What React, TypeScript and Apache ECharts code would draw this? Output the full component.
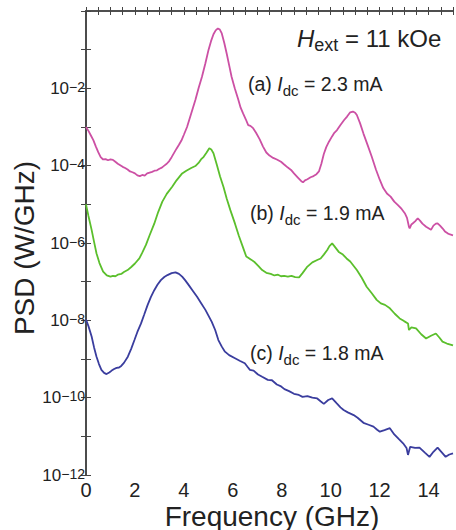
import React, { useEffect, useRef } from "react";
import * as echarts from "echarts";

// Frequency (GHz) and exponent of PSD (W/GHz), i.e. log10(PSD)
const freqA = [0.0, 0.1, 0.2, 0.3, 0.4, 0.5, 0.6, 0.7, 0.8, 0.9, 1.0, 1.1, 1.2, 1.3, 1.4, 1.5, 1.6, 1.7, 1.8, 1.9, 2.0, 2.1, 2.2, 2.3, 2.4, 2.5, 2.6, 2.7, 2.8, 2.9, 3.0, 3.1, 3.2, 3.3, 3.4, 3.5, 3.6, 3.7, 3.8, 3.9, 4.0, 4.13, 4.3, 4.47, 4.6, 4.74, 4.88, 5.01, 5.11, 5.21, 5.3, 5.39, 5.47, 5.55, 5.65, 5.75, 5.85, 5.95, 6.08, 6.22, 6.32, 6.42, 6.53, 6.63, 6.72, 6.83, 6.95, 7.1, 7.23, 7.37, 7.5, 7.65, 7.8, 7.97, 8.1, 8.25, 8.38, 8.5, 8.65, 8.8, 8.87, 8.95, 9.05, 9.18, 9.3, 9.42, 9.52, 9.62, 9.72, 9.82, 9.93, 10.05, 10.15, 10.26, 10.4, 10.55, 10.67, 10.8, 10.91, 11.0, 11.07, 11.2, 11.34, 11.5, 11.68, 11.85, 12.01, 12.15, 12.3, 12.45, 12.6, 12.75, 12.9, 13.03, 13.12, 13.2, 13.23, 13.3, 13.36, 13.45, 13.56, 13.65, 13.75, 13.9, 14.0, 14.1, 14.2, 14.3, 14.37, 14.47, 14.57, 14.67, 14.78, 14.88, 15.0];
const expA = [-3.0, -3.1, -3.22, -3.34, -3.5, -3.65, -3.78, -3.84, -3.83, -3.86, -3.84, -3.85, -3.9, -3.95, -3.99, -4.03, -4.06, -4.1, -4.15, -4.17, -4.2, -4.25, -4.27, -4.24, -4.26, -4.2, -4.18, -4.16, -4.13, -4.12, -4.08, -4.05, -4.0, -3.95, -3.88, -3.78, -3.67, -3.56, -3.46, -3.35, -3.2, -3.0, -2.65, -2.3, -2.0, -1.7, -1.35, -1.0, -0.78, -0.6, -0.5, -0.45, -0.48, -0.58, -0.82, -1.1, -1.4, -1.7, -2.0, -2.28, -2.5, -2.65, -2.8, -2.95, -2.97, -3.03, -3.15, -3.32, -3.5, -3.66, -3.74, -3.8, -3.84, -3.9, -3.97, -4.05, -4.11, -4.2, -4.3, -4.4, -4.43, -4.38, -4.35, -4.3, -4.27, -4.22, -4.15, -3.95, -3.7, -3.52, -3.38, -3.25, -3.15, -3.08, -2.95, -2.82, -2.73, -2.62, -2.6, -2.63, -2.69, -2.9, -3.17, -3.45, -3.77, -4.1, -4.37, -4.58, -4.72, -4.8, -4.93, -5.02, -5.12, -5.23, -5.35, -5.58, -5.62, -5.52, -5.49, -5.44, -5.36, -5.42, -5.5, -5.58, -5.62, -5.66, -5.55, -5.5, -5.49, -5.55, -5.62, -5.7, -5.75, -5.78, -5.8];

const freqB = [0.0, 0.1, 0.23, 0.33, 0.43, 0.55, 0.7, 0.85, 1.0, 1.1, 1.2, 1.3, 1.44, 1.55, 1.7, 1.85, 2.0, 2.18, 2.3, 2.45, 2.6, 2.79, 2.95, 3.12, 3.3, 3.53, 3.7, 3.93, 4.1, 4.3, 4.47, 4.6, 4.7, 4.81, 4.93, 5.04, 5.12, 5.21, 5.35, 5.48, 5.62, 5.75, 5.9, 6.09, 6.25, 6.42, 6.55, 6.63, 6.75, 6.9, 7.05, 7.2, 7.37, 7.55, 7.7, 7.85, 7.97, 8.1, 8.25, 8.4, 8.55, 8.71, 8.85, 9.05, 9.25, 9.45, 9.59, 9.72, 9.86, 9.95, 10.06, 10.15, 10.33, 10.5, 10.65, 10.8, 10.95, 11.07, 11.27, 11.47, 11.68, 11.88, 12.05, 12.22, 12.42, 12.62, 12.82, 13.0, 13.16, 13.2, 13.3, 13.49, 13.7, 13.9, 14.1, 14.3, 14.45, 14.57, 14.75, 15.0];
const expB = [-5.0, -5.3, -5.66, -5.97, -6.27, -6.52, -6.74, -6.84, -6.87, -6.85, -6.86, -6.82, -6.8, -6.75, -6.7, -6.62, -6.53, -6.4, -6.25, -6.05, -5.8, -5.5, -5.2, -4.93, -4.73, -4.54, -4.38, -4.2, -4.13, -4.06, -4.01, -3.93, -3.84, -3.77, -3.66, -3.55, -3.58, -3.68, -3.98, -4.28, -4.55, -4.85, -5.15, -5.5, -5.82, -6.12, -6.35, -6.38, -6.43, -6.5, -6.6, -6.7, -6.77, -6.8, -6.84, -6.82, -6.86, -6.85, -6.87, -6.85, -6.88, -6.89, -6.78, -6.61, -6.5, -6.44, -6.4, -6.3, -6.18, -6.08, -6.01, -6.08, -6.23, -6.3, -6.4, -6.48, -6.6, -6.7, -6.9, -7.13, -7.3, -7.47, -7.56, -7.6, -7.69, -7.83, -7.95, -8.02, -8.08, -8.25, -8.18, -8.21, -8.36, -8.47, -8.4, -8.34, -8.45, -8.55, -8.6, -8.65];

const freqC = [0.0, 0.1, 0.23, 0.33, 0.43, 0.53, 0.63, 0.74, 0.84, 0.95, 1.05, 1.15, 1.25, 1.35, 1.44, 1.55, 1.71, 1.85, 1.98, 2.1, 2.25, 2.38, 2.52, 2.65, 2.79, 2.92, 3.06, 3.2, 3.33, 3.5, 3.66, 3.8, 3.93, 4.05, 4.2, 4.37, 4.54, 4.7, 4.88, 5.0, 5.14, 5.28, 5.41, 5.55, 5.68, 5.85, 6.09, 6.3, 6.49, 6.6, 6.7, 6.85, 7.03, 7.2, 7.43, 7.6, 7.8, 7.95, 8.11, 8.3, 8.5, 8.7, 8.85, 9.05, 9.25, 9.45, 9.6, 9.72, 9.9, 10.06, 10.25, 10.4, 10.53, 10.7, 10.94, 11.1, 11.34, 11.55, 11.75, 11.9, 12.01, 12.2, 12.42, 12.6, 12.8, 12.96, 13.1, 13.16, 13.25, 13.45, 13.63, 13.85, 14.04, 14.2, 14.37, 14.55, 14.7, 14.85, 15.0];
const expC = [-7.98, -8.15, -8.42, -8.7, -8.94, -9.13, -9.28, -9.36, -9.39, -9.35, -9.3, -9.26, -9.23, -9.22, -9.18, -9.1, -8.94, -8.73, -8.51, -8.3, -8.08, -7.85, -7.6, -7.4, -7.22, -7.08, -6.96, -6.88, -6.83, -6.78, -6.76, -6.8, -6.87, -6.96, -7.09, -7.24, -7.39, -7.55, -7.73, -7.87, -8.04, -8.25, -8.51, -8.68, -8.81, -8.9, -8.98, -9.05, -9.11, -9.2, -9.28, -9.3, -9.4, -9.46, -9.54, -9.55, -9.66, -9.7, -9.78, -9.83, -9.9, -9.93, -9.98, -9.96, -10.0, -10.02, -10.1, -10.16, -10.06, -10.02, -10.15, -10.25, -10.32, -10.38, -10.45, -10.52, -10.65, -10.7, -10.75, -10.83, -10.88, -10.84, -10.79, -10.95, -11.08, -11.18, -11.3, -11.48, -11.27, -11.3, -11.29, -11.42, -11.53, -11.4, -11.29, -11.42, -11.53, -11.47, -11.44];

const xTickLabels = [0, 2, 4, 6, 8, 10, 12, 14];
const yLabelExps = [-2, -4, -6, -8, -10, -12];

const colA = "#cc50a4";
const colB = "#5bbf2c";
const colC = "#3a3d9e";
const FONT = "Liberation Sans, Arial, sans-serif";
const AXIS = "#444";

function toData(f: number[], e: number[]) {
  return f.map((x, i) => [x, e[i]]);
}

export default function App() {
  const ref = useRef<HTMLDivElement>(null);
  useEffect(() => {
    if (!ref.current) return;
    const chart = echarts.init(ref.current, null, { renderer: "svg" });
    const grid = { left: 86, top: 11, width: 371, height: 464 };
    const lineStyle = (c: string) => ({ color: c, width: 1.8 });
    const annText = (x: number, y: number, letter: string, cur: string) => ({
      type: "text",
      x,
      y,
      style: {
        text: `{m|(${letter}) }{i|I}{s|dc}{m| = ${cur} mA}`,
        fill: "#222",
        font: `19.5px ${FONT}`,
        rich: {
          m: { fontSize: 19.5, fontFamily: FONT, lineHeight: 24, verticalAlign: "top", fill: "#222" },
          i: { fontSize: 19.5, fontFamily: FONT, fontStyle: "italic", lineHeight: 24, verticalAlign: "top", fill: "#222" },
          s: { fontSize: 15, fontFamily: FONT, lineHeight: 15, verticalAlign: "bottom", fill: "#222" },
        },
      },
    });
    const xCommon = {
      type: "value",
      min: 0,
      max: 15,
      interval: 0.5,
      axisLine: { lineStyle: { color: AXIS, width: 1.5 } },
      axisTick: { inside: true, length: 4, lineStyle: { color: AXIS, width: 1 } },
      splitLine: { show: false },
    };
    const yCommon = {
      type: "value",
      min: -12,
      max: 0,
      interval: 1,
      axisTick: { show: true, inside: true, length: 5, lineStyle: { color: AXIS, width: 1 } },
      splitLine: { show: false },
    };
    chart.setOption({
      animation: false,
      grid,
      xAxis: [
        {
          ...xCommon,
          axisLabel: {
            margin: 5,
            fontSize: 20,
            fontFamily: FONT,
            color: "#222",
            formatter: (v: number) => (xTickLabels.indexOf(v) >= 0 ? String(v) : ""),
          },
        },
        { ...xCommon, position: "top", axisLabel: { show: false } },
      ],
      yAxis: [
        {
          ...yCommon,
          axisLine: { lineStyle: { color: "#666", width: 2 } },
          axisLabel: {
            margin: 1,
            fontFamily: FONT,
            fontSize: 17,
            color: "#222",
            formatter: (v: number) =>
              yLabelExps.indexOf(v) >= 0 ? `{b|10}{s|\u2212${Math.abs(v)}}` : "",
            rich: {
              b: { fontSize: 17, fontFamily: FONT, lineHeight: 17, verticalAlign: "bottom", color: "#222" },
              s: { fontSize: 14, fontFamily: FONT, lineHeight: 14, verticalAlign: "top", padding: [0, 0, 10, 0], color: "#222" },
            },
          },
        },
        {
          ...yCommon,
          position: "right",
          axisLine: { show: true, lineStyle: { color: AXIS, width: 1.5 } },
          axisLabel: { show: false },
        },
      ],
      series: [
        { type: "line", data: toData(freqA, expA), showSymbol: false, lineStyle: lineStyle(colA), itemStyle: { color: colA } },
        { type: "line", data: toData(freqB, expB), showSymbol: false, lineStyle: lineStyle(colB), itemStyle: { color: colB } },
        { type: "line", data: toData(freqC, expC), showSymbol: false, lineStyle: lineStyle(colC), itemStyle: { color: colC } },
      ],
      graphic: [
        {
          type: "text",
          x: 24,
          y: 248,
          rotation: Math.PI / 2,
          style: {
            text: "PSD (W/GHz)",
            font: `28px ${FONT}`,
            fill: "#222",
            align: "center",
            verticalAlign: "middle",
          },
        },
        {
          type: "text",
          x: 272,
          y: 516,
          style: {
            text: "Frequency (GHz)",
            font: `28px ${FONT}`,
            fill: "#222",
            align: "center",
            verticalAlign: "middle",
          },
        },
        {
          type: "text",
          x: 297,
          y: 26,
          style: {
            text: "{i|H}{s|ext}{m| = 11 kOe}",
            font: `24px ${FONT}`,
            fill: "#222",
            rich: {
              i: { fontSize: 24, fontFamily: FONT, fontStyle: "italic", lineHeight: 28, verticalAlign: "top", fill: "#222" },
              s: { fontSize: 18, fontFamily: FONT, lineHeight: 18, verticalAlign: "bottom", fill: "#222" },
              m: { fontSize: 24, fontFamily: FONT, lineHeight: 28, verticalAlign: "top", fill: "#222" },
            },
          },
        },
        annText(248, 74, "a", "2.3"),
        annText(250, 203, "b", "1.9"),
        annText(250, 343, "c", "1.8"),
      ],
    });
    return () => chart.dispose();
  }, []);
  return (
    <div
      ref={ref}
      style={{ position: "fixed", left: 0, top: 0, width: 456, height: 530, background: "#fff" }}
    />
  );
}
